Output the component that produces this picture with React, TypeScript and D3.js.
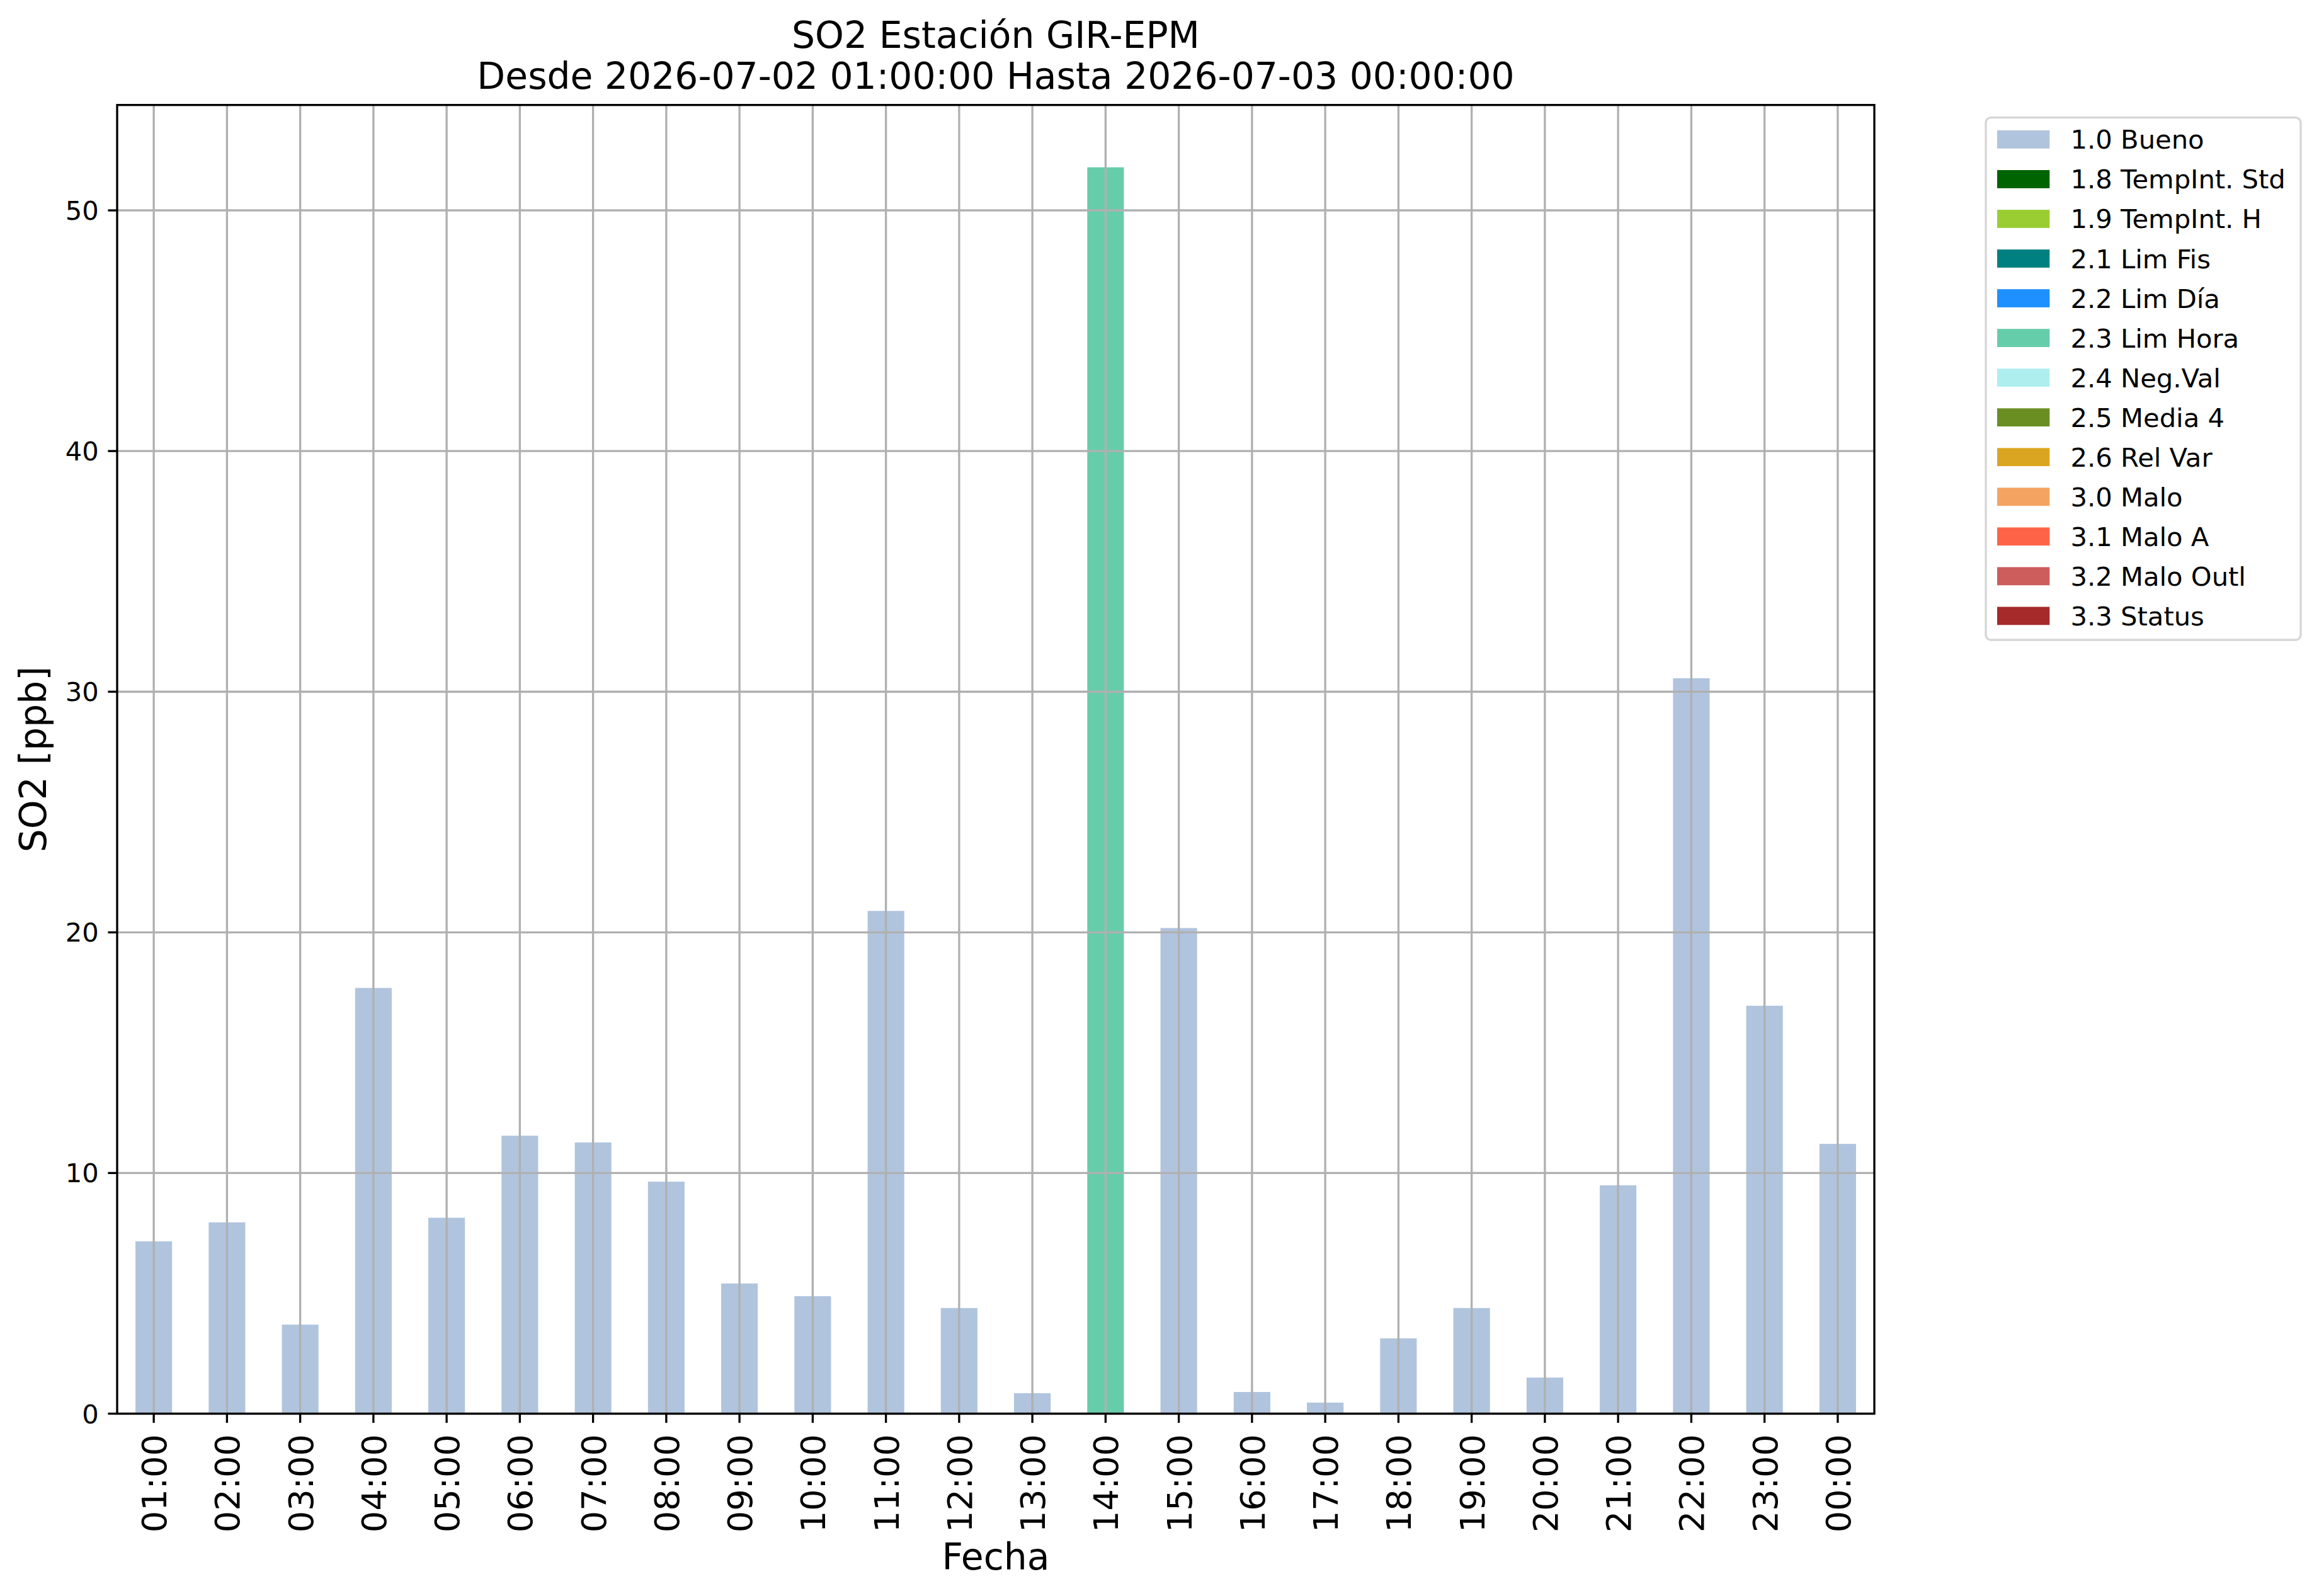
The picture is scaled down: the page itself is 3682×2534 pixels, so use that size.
import React from "react";
import * as d3 from "d3";

const hours = [
  "01:00", "02:00", "03:00", "04:00", "05:00", "06:00", "07:00", "08:00",
  "09:00", "10:00", "11:00", "12:00", "13:00", "14:00", "15:00", "16:00",
  "17:00", "18:00", "19:00", "20:00", "21:00", "22:00", "23:00", "00:00",
];
const so2Values = [
  7.16, 7.95, 3.70, 17.69, 8.14, 11.55, 11.27, 9.64,
  5.41, 4.88, 20.89, 4.39, 0.85, 51.79, 20.18, 0.90,
  0.46, 3.13, 4.39, 1.50, 9.49, 30.56, 16.95, 11.21,
];
const flags = [
  "1.0 Bueno", "1.0 Bueno", "1.0 Bueno", "1.0 Bueno", "1.0 Bueno", "1.0 Bueno",
  "1.0 Bueno", "1.0 Bueno", "1.0 Bueno", "1.0 Bueno", "1.0 Bueno", "1.0 Bueno",
  "1.0 Bueno", "2.3 Lim Hora", "1.0 Bueno", "1.0 Bueno", "1.0 Bueno", "1.0 Bueno",
  "1.0 Bueno", "1.0 Bueno", "1.0 Bueno", "1.0 Bueno", "1.0 Bueno", "1.0 Bueno",
];
const legendLabels = [
  "1.0 Bueno", "1.8 TempInt. Std", "1.9 TempInt. H", "2.1 Lim Fis", "2.2 Lim Día",
  "2.3 Lim Hora", "2.4 Neg.Val", "2.5 Media 4", "2.6 Rel Var", "3.0 Malo",
  "3.1 Malo A", "3.2 Malo Outl", "3.3 Status",
];
const legendColors = [
  "#B0C4DE", "#006400", "#9ACD32", "#008080", "#1E90FF", "#66CDAA", "#AFEEEE",
  "#6B8E23", "#DAA520", "#F4A460", "#FF6347", "#CD5C5C", "#A52A2A",
];
const yTicks = [0, 10, 20, 30, 40, 50];
const titleLines = ["SO2 Estación GIR-EPM", "Desde 2026-07-02 01:00:00 Hasta 2026-07-03 00:00:00"];

const W = 3682;
const H = 2534;
const L = 186;
const R = 2976;
const T = 166.7;
const B = 2244.5;
const LW = 3.33;
const TICK = 14.6;
const FONT = "DejaVu Sans, Verdana, sans-serif";

export default function App() {
  const x = d3.scaleBand<string>().domain(hours).range([L, R]).paddingInner(0.5).paddingOuter(0.25);
  const yMax = (d3.max(so2Values) as number) * 1.05;
  const y = d3.scaleLinear().domain([0, yMax]).range([B, T]);
  const color = d3.scaleOrdinal<string, string>().domain(legendLabels).range(legendColors);

  const legLeft = 3153;
  const legTop = 186.7;
  const legRight = 3653;
  const legBottom = 1016;
  const rowStep = 63.04;
  const handleTop0 = 207;
  const handleH = 28.8;
  const handleX = 3171;
  const handleW = 83.3;

  return (
    <svg width={W} height={H} style={{ position: "absolute", left: 0, top: 0, background: "#fff" }} fontFamily={FONT}>
      <rect x={0} y={0} width={W} height={H} fill="#fff" />
      {/* bars */}
      {hours.map((h, i) => (
        <rect
          key={h}
          x={x(h)}
          y={y(so2Values[i])}
          width={x.bandwidth()}
          height={B - y(so2Values[i])}
          fill={color(flags[i])}
        />
      ))}
      {/* grid */}
      {hours.map((h) => {
        const cx = (x(h) as number) + x.bandwidth() / 2;
        return <line key={"gx" + h} x1={cx} x2={cx} y1={T} y2={B} stroke="#b0b0b0" strokeWidth={LW} />;
      })}
      {yTicks.map((t) => (
        <line key={"gy" + t} x1={L} x2={R} y1={y(t)} y2={y(t)} stroke="#b0b0b0" strokeWidth={LW} />
      ))}
      {/* spines */}
      <rect x={L} y={T} width={R - L} height={B - T} fill="none" stroke="#000" strokeWidth={LW} />
      {/* y ticks */}
      {yTicks.map((t) => (
        <g key={"yt" + t}>
          <line x1={L - TICK} x2={L} y1={y(t)} y2={y(t)} stroke="#000" strokeWidth={LW} />
          <text x={L - TICK - 14.6} y={y(t)} dy="0.36em" textAnchor="end" fontSize={41.67} fill="#000">
            {t}
          </text>
        </g>
      ))}
      {/* x ticks */}
      {hours.map((h) => {
        const cx = (x(h) as number) + x.bandwidth() / 2;
        return (
          <g key={"xt" + h}>
            <line x1={cx} x2={cx} y1={B} y2={B + TICK} stroke="#000" strokeWidth={LW} />
            <text
              transform={`translate(${cx},${B + TICK + 18}) rotate(-90)`}
              dy="0.37em"
              textAnchor="end"
              fontSize={54.17}
              fill="#000"
            >
              {h}
            </text>
          </g>
        );
      })}
      {/* axis labels */}
      <text x={(L + R) / 2} y={2491.7} textAnchor="middle" fontSize={58.33} fill="#000">
        Fecha
      </text>
      <text transform={`translate(72.5,${(T + B) / 2}) rotate(-90)`} textAnchor="middle" fontSize={58.33} fill="#000">
        SO2 [ppb]
      </text>
      {/* title */}
      <text x={(L + R) / 2} y={75.5} textAnchor="middle" fontSize={58.33} fill="#000">
        {titleLines[0]}
      </text>
      <text x={(L + R) / 2} y={141} textAnchor="middle" fontSize={58.33} fill="#000">
        {titleLines[1]}
      </text>
      {/* legend */}
      <rect
        x={legLeft}
        y={legTop}
        width={legRight - legLeft}
        height={legBottom - legTop}
        rx={8}
        ry={8}
        fill="#fff"
        stroke="#d6d6d6"
        strokeWidth={LW}
      />
      {legendLabels.map((lab, i) => {
        const ty = handleTop0 + i * rowStep;
        return (
          <g key={"lg" + lab}>
            <rect x={handleX} y={ty} width={handleW} height={handleH} fill={color(lab)} />
            <text x={handleX + handleW + 33.3} y={ty + handleH / 2} dy="0.36em" fontSize={41.67} fill="#000">
              {lab}
            </text>
          </g>
        );
      })}
    </svg>
  );
}
